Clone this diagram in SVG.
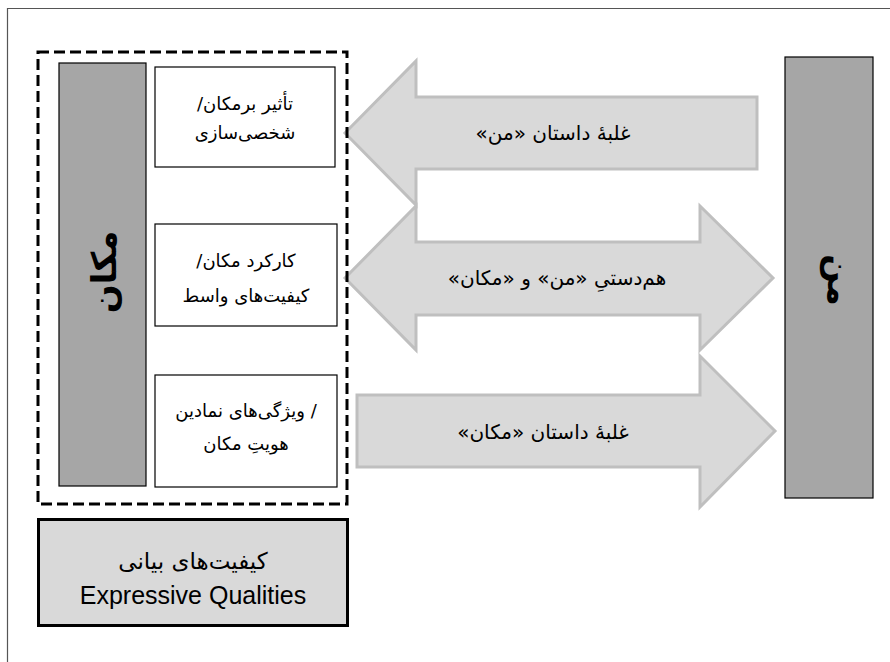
<svg xmlns="http://www.w3.org/2000/svg" width="890" height="662" viewBox="0 0 890 662">
<style>
.fa{font-family:"DejaVu Sans",sans-serif;font-size:18px;fill:#000;text-anchor:middle;dominant-baseline:central}
.at{font-size:20px}
.arr{fill:#d9d9d9;stroke:#bfbfbf;stroke-width:3;stroke-linejoin:miter}
.box{fill:#fff;stroke:#000;stroke-width:1.2}
.bar{fill:#a6a6a6;stroke:#000;stroke-width:1.2}
.big{font-family:"DejaVu Sans",sans-serif;font-size:34px;font-weight:bold;fill:#000;text-anchor:middle;dominant-baseline:central}
</style>
<rect width="890" height="662" fill="#fff"/>
<path d="M7.5 662 V8.5 H890" fill="none" stroke="#555" stroke-width="1.2"/>
<g id="connectors">
<path class="arr" d="M416 97 V61 L345 133 L416 205 V169 H757 V97 Z"/>
<path class="arr" d="M416 242 V206 L345 278 L416 350 V315 H700 V350 L773 278 L700 206 V242 Z"/>
<path class="arr" d="M357 395 H700 V356 L775 431 L700 507 V467 H357 Z"/>
<text class="fa at" direction="rtl" x="553" y="133">غلبهٔ داستان «من»</text>
<text class="fa at" direction="rtl" x="557" y="278">هم&#x200C;دستیِ «من» و «مکان»</text>
<text class="fa at" direction="rtl" x="543" y="432">غلبهٔ داستان «مکان»</text>
</g>
<g id="group-frame">
<rect x="38" y="52" width="309" height="452" fill="none" stroke="#000" stroke-width="3" stroke-dasharray="11 5"/>
</g>
<g id="makan">
<rect class="bar" x="59" y="63" width="87" height="423"/>
<text class="big" direction="rtl" x="104" y="272" transform="rotate(-90 104 272)">مکان</text>
</g>
<g id="box1">
<rect class="box" x="155" y="67" width="180" height="100"/>
<text class="fa" direction="rtl" x="245" y="103">تأثیر برمکان/</text>
<text class="fa" direction="rtl" x="245" y="132">شخصی&#x200C;سازی</text>
</g>
<g id="box2">
<rect class="box" x="155" y="224" width="182" height="102"/>
<text class="fa" direction="rtl" x="246" y="260">کارکرد مکان/</text>
<text class="fa" direction="rtl" x="246" y="295">کیفیت&#x200C;های واسط</text>
</g>
<g id="box3">
<rect class="box" x="155" y="375" width="182" height="112"/>
<text class="fa" x="246" y="410">ویژگی&#x200C;های نمادین /</text>
<text class="fa" direction="rtl" x="246" y="443">هویتِ مکان</text>
</g>
<g id="expressive">
<rect x="38.5" y="519.5" width="309" height="106" fill="#d9d9d9" stroke="#000" stroke-width="3"/>
<text class="fa" direction="rtl" x="193" y="561" style="font-size:23px">کیفیت&#x200C;های بیانی</text>
<text x="193" y="595" text-anchor="middle" dominant-baseline="central" font-family="Liberation Sans, sans-serif" font-size="25" fill="#000">Expressive Qualities</text>
</g>
<g id="man">
<rect class="bar" x="785" y="57" width="88" height="441"/>
<text class="big" direction="rtl" x="840" y="280" transform="rotate(90 840 280)">من</text>
</g>
</svg>
